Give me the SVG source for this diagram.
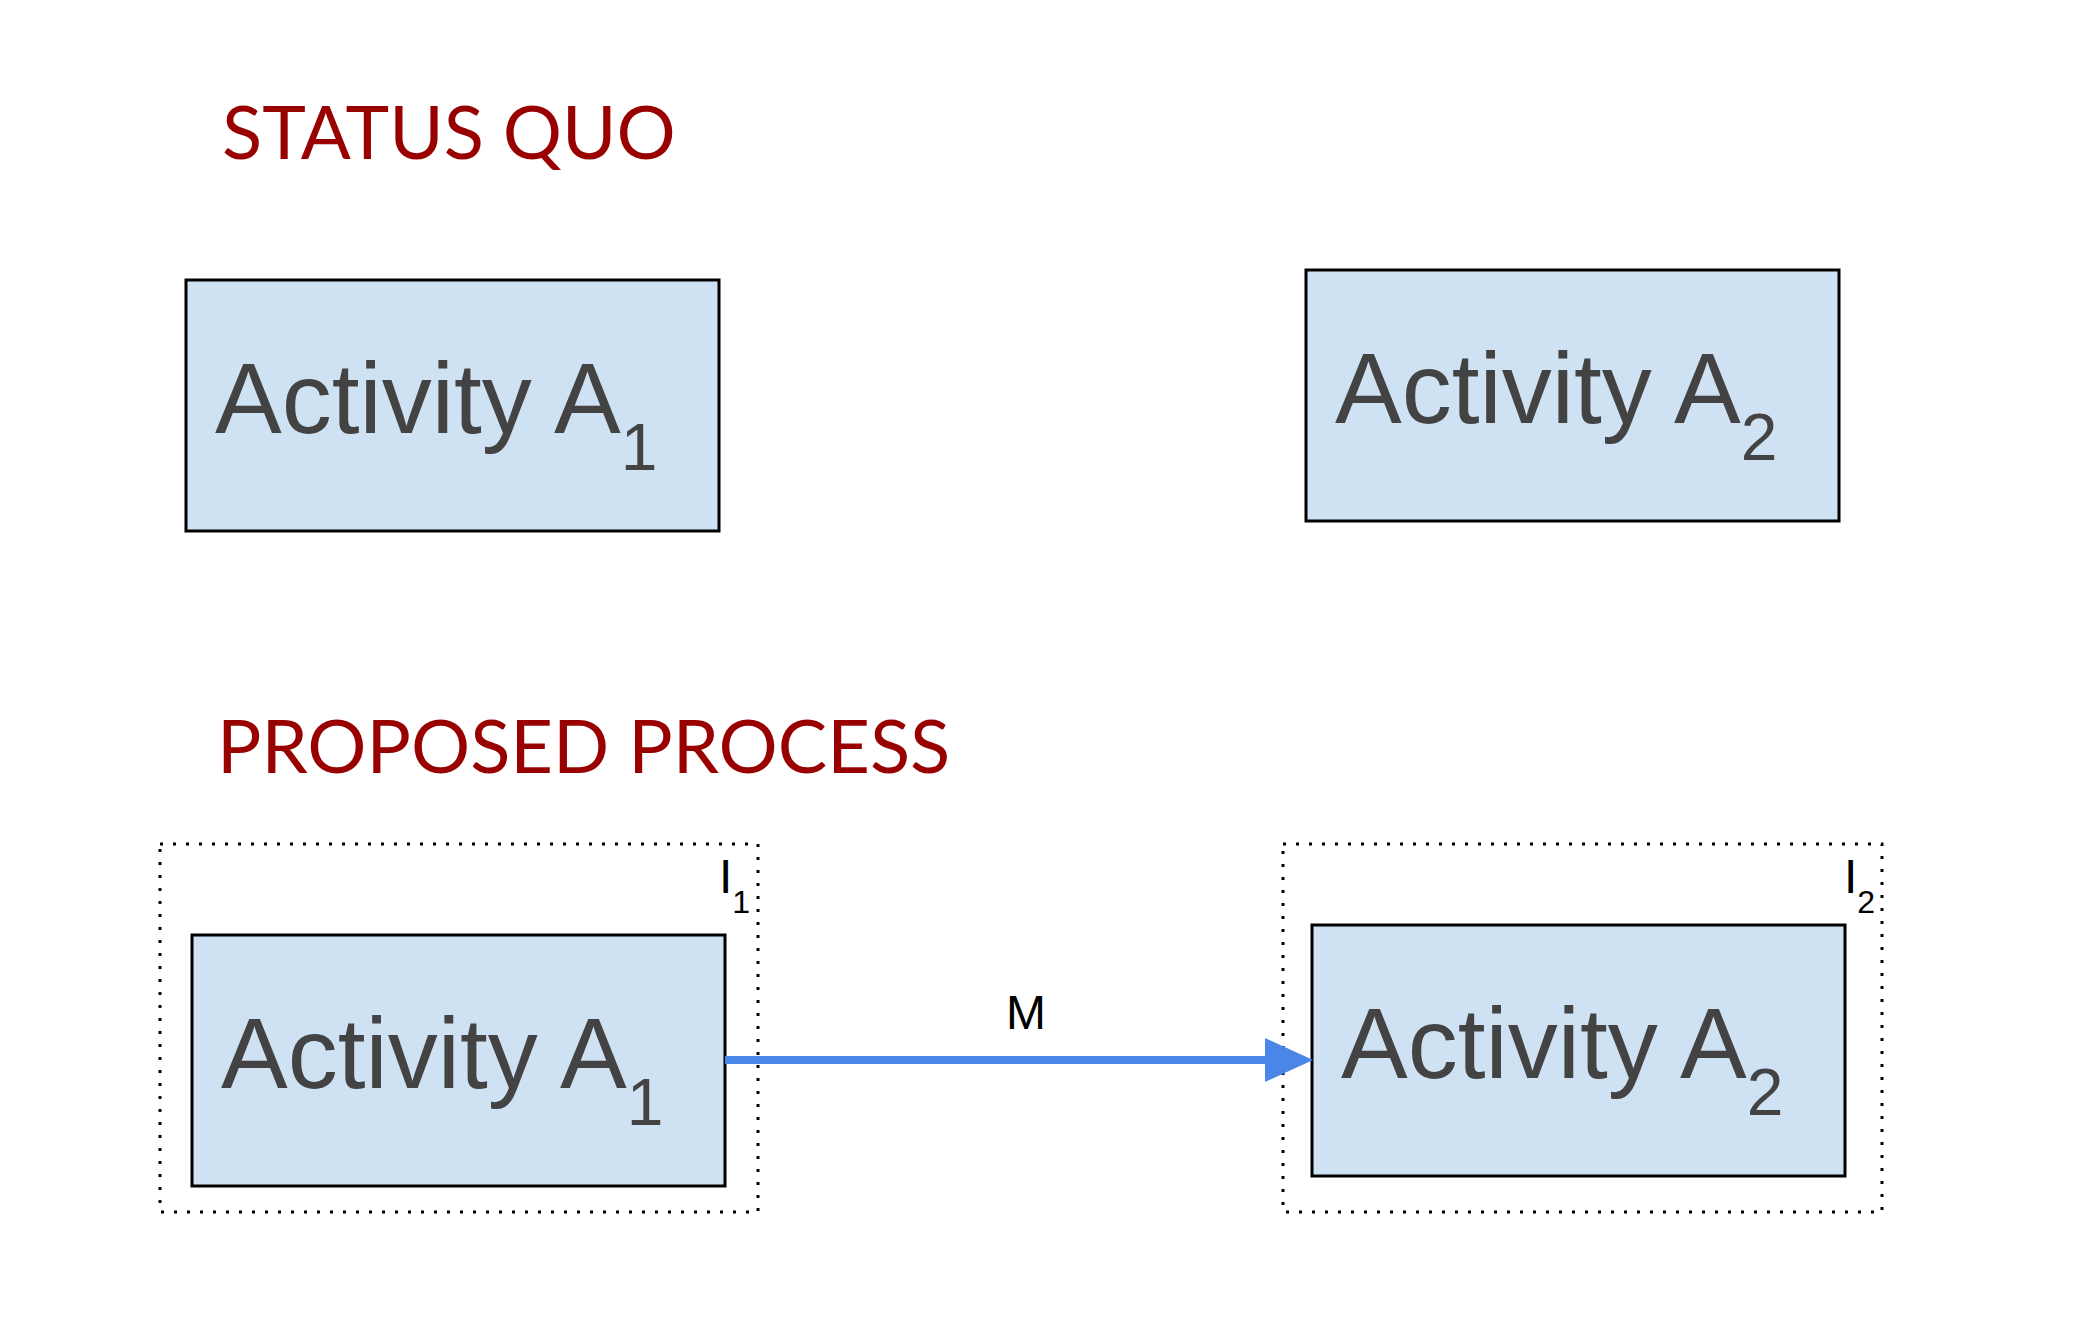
<svg xmlns="http://www.w3.org/2000/svg" width="2077" height="1335" viewBox="0 0 2077 1335">
  <defs>
    <style>
      .heading { font-family: Lato, "Liberation Sans", sans-serif; font-size: 74px; fill: #990000; }
      .box { fill: #cfe2f3; stroke: #000000; stroke-width: 3; }
      .group { fill: none; stroke: #000000; stroke-width: 3; stroke-dasharray: 3 10; }
      .act { font-family: "Liberation Sans", Arial, sans-serif; font-size: 100px; fill: #434343; }
      .sub { font-size: 66px; }
      .lbl { font-family: "Liberation Sans", Arial, sans-serif; font-size: 48px; fill: #000000; }
      .lblsub { font-size: 32px; }
      .conn { fill: none; stroke: #4a86e8; stroke-width: 8; }
    </style>
    <marker id="arrow" markerUnits="userSpaceOnUse" markerWidth="48" markerHeight="44" refX="0" refY="22" orient="auto" viewBox="0 0 48 44">
      <path d="M0,0 L48,22 L0,44 Z" fill="#4a86e8"/>
    </marker>
  </defs>
  <rect width="2077" height="1335" fill="#ffffff"/>

  <text id="heading-status-quo" class="heading" x="222" y="159">STATUS QUO</text>
  <text id="heading-proposed" class="heading" x="217" y="773">PROPOSED PROCESS</text>

  <g id="sq-a1">
    <rect class="box" x="186" y="280" width="533" height="251"/>
    <text class="act" x="215" y="433">Activity A<tspan class="sub" dy="37">1</tspan></text>
  </g>
  <g id="sq-a2">
    <rect class="box" x="1306" y="270" width="533" height="251"/>
    <text class="act" x="1335" y="423">Activity A<tspan class="sub" dy="37">2</tspan></text>
  </g>

  <g id="i1">
    <rect class="group" x="160" y="844" width="598" height="368"/>
    <text class="lbl" x="719" y="893">I<tspan class="lblsub" dy="20">1</tspan></text>
  </g>
  <g id="i2">
    <rect class="group" x="1283" y="844" width="599" height="368"/>
    <text class="lbl" x="1844" y="893">I<tspan class="lblsub" dy="20">2</tspan></text>
  </g>

  <g id="pp-a1">
    <rect class="box" x="192" y="935" width="533" height="251"/>
    <text class="act" x="221" y="1088">Activity A<tspan class="sub" dy="37">1</tspan></text>
  </g>
  <g id="pp-a2">
    <rect class="box" x="1312" y="925" width="533" height="251"/>
    <text class="act" x="1341" y="1078">Activity A<tspan class="sub" dy="37">2</tspan></text>
  </g>

  <g id="connectors">
    <path class="conn" d="M725,1060 L1265,1060" marker-end="url(#arrow)"/>
    <text class="lbl" x="1026" y="1029" text-anchor="middle" font-size="52">M</text>
  </g>
</svg>
